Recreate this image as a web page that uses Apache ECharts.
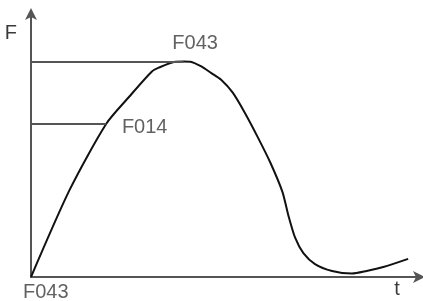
<!DOCTYPE html>
<html>
<head>
    <meta charset="utf-8">
    <title>F - t</title>
    <script src="https://cdn.jsdelivr.net/npm/echarts@6/dist/echarts.min.js"></script>
</head>
<style>
    html, body{
        margin: 0;
        padding: 0;
        background: #fff;
    }
    #main{
        width: 423px;
        height: 301px;
    }
</style>
<body>
<div id="main"></div>
<script>
    // curve: t (0-100), F (peak = 100)
    var curveT = [0, 9.95, 19.4, 25.3, 31.1, 32.9, 37.2, 39.3, 41.1, 43.9, 46.4, 49.0, 52.0, 55.1, 58.4, 61.7, 64.8, 66.3, 68.1, 70.2, 73.2, 77.6, 82.7, 86.5, 90.8, 97.2];
    var curveF = [0, 40.4, 71.1, 83.6, 95.2, 97.1, 99.9, 100, 99.9, 97.7, 94.7, 91.5, 85.5, 76.2, 65.0, 53.0, 39.5, 28.8, 18.1, 11.1, 6.0, 2.8, 1.6, 2.8, 4.6, 8.4];

    // horizontal guides: level and where they meet the curve
    var guideF = [100, 71.1];
    var guideEndT = [39.3, 19.4];

    // annotation texts and where they sit
    var labelText = ['F043', 'F014', 'F043'];
    var labelT = [42.3, 29.3, 3.8];
    var labelF = [108.2, 69.4, -7.0];

    var axisColor = '#555';
    var textColor = '#3a3a3a';
    var font = 'Liberation Sans';

    var curve = [];
    for (var i = 0; i < curveT.length; i++) {
        curve.push([curveT[i], curveF[i]]);
    }
    var guides = [];
    for (var j = 0; j < guideF.length; j++) {
        guides.push([{coord: [0, guideF[j]]}, {coord: [guideEndT[j], guideF[j]]}]);
    }
    var labels = [];
    for (var k = 0; k < labelText.length; k++) {
        labels.push({name: labelText[k], value: [labelT[k], labelF[k]]});
    }

    var myChart = echarts.init(document.getElementById('main'));
    var option = {
        animation: false,
        grid: {left: 31, right: 4, top: 14, bottom: 24, outerBoundsMode: 'none'},
        xAxis: {
            type: 'value', min: 0, max: 100,
            name: 't', nameLocation: 'end', nameGap: -22,
            nameTextStyle: {color: textColor, fontFamily: font, fontSize: 20, align: 'center', verticalAlign: 'top', padding: [2, 0, 0, 0]},
            axisLine: {lineStyle: {color: axisColor, width: 2}, symbol: ['none', 'arrow'], symbolSize: [9, 12], symbolOffset: [0, 6]},
            axisTick: {show: false}, axisLabel: {show: false}, splitLine: {show: false}
        },
        yAxis: {
            type: 'value', min: 0, max: 122,
            name: 'F', nameLocation: 'end', nameGap: -29,
            nameTextStyle: {color: textColor, fontFamily: font, fontSize: 20, align: 'right', verticalAlign: 'bottom', padding: [0, 14, 0, 0]},
            axisLine: {lineStyle: {color: axisColor, width: 2}, symbol: ['none', 'arrow'], symbolSize: [9, 12], symbolOffset: [0, 6]},
            axisTick: {show: false}, axisLabel: {show: false}, splitLine: {show: false}
        },
        series: [
            {
                type: 'line', data: curve, smooth: 0.25, showSymbol: false,
                lineStyle: {color: '#111', width: 2},
                markLine: {
                    silent: true, symbol: ['none', 'none'], label: {show: false},
                    lineStyle: {color: axisColor, width: 2, type: 'solid'},
                    data: guides
                }
            },
            {
                type: 'scatter', data: labels, symbolSize: 0, clip: false,
                label: {show: true, position: 'inside', formatter: '{b}', color: textColor, fontFamily: font, fontSize: 20}
            }
        ]
    };
    myChart.setOption(option);
</script>
</body>
</html>
